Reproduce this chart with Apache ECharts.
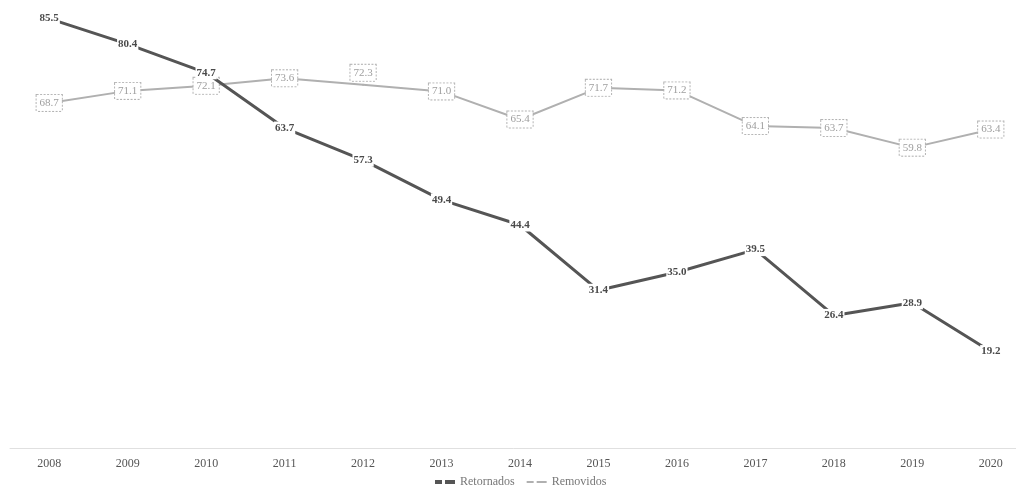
<!DOCTYPE html>
<html><head><meta charset="utf-8">
<script src="https://cdn.jsdelivr.net/npm/echarts@6/dist/echarts.min.js"></script>
<style>html,body{margin:0;padding:0;background:#fff}#c{width:1016px;height:490px}</style>
</head><body><div id="c"></div>
<script>
const years = ['2008','2009','2010','2011','2012','2013','2014','2015','2016','2017','2018','2019','2020'];
const retornados = [85.5,80.4,74.7,63.7,57.3,49.4,44.4,31.4,35.0,39.5,26.4,28.9,19.2];
const removidos = [68.7,71.1,72.1,73.6,72.3,71.0,65.4,71.7,71.2,64.1,63.7,59.8,63.4];
const serif = '"Liberation Serif","DejaVu Serif",serif';
const chart = echarts.init(document.getElementById('c'));
chart.setOption({
  animation:false,
  backgroundColor:'#fff',
  grid:{left:10,width:1020,top:6,bottom:42,outerBoundsMode:'none',containLabel:false},
  legend:{
    bottom:-3,left:430,itemWidth:20,itemHeight:4,itemGap:12,
    textStyle:{fontFamily:serif,fontSize:12,color:'#777'},
    data:[
      {name:'Retornados',icon:'path://M0,0h7v4h-7zM10,0h10v4h-10z',itemStyle:{color:'#555',opacity:1}},
      {name:'Removidos',icon:'path://M0,1h7v2h-7zM10,1h10v2h-10z',itemStyle:{color:'#b0b0b0',opacity:1}}
    ]
  },
  xAxis:{type:'category',data:years,boundaryGap:true,
    axisLine:{lineStyle:{color:'#e0e0e0',width:1}},axisTick:{show:false},
    axisLabel:{fontFamily:serif,fontSize:12,color:'#555',margin:10}},
  yAxis:{type:'value',min:0,max:88,show:false,splitLine:{show:false}},
  series:[
    {name:'Removidos',type:'line',data:removidos,symbol:'circle',symbolSize:2,z:2,
      lineStyle:{color:'#b0b0b0',width:2},itemStyle:{color:'#b0b0b0'},
      label:{show:true,position:'inside',formatter:p=>p.value.toFixed(1),
        fontFamily:serif,fontSize:11,color:'#9e9e9e',backgroundColor:'#fff',
        borderColor:'#b4b4b4',borderWidth:1,borderType:[2,1.5],padding:[3,3,2,3]},
      labelLayout:function(p){ if(p.dataIndex===4){return {dy:-12};} return {}; }
    },
    {name:'Retornados',type:'line',data:retornados,symbol:'circle',symbolSize:2,z:3,
      lineStyle:{color:'#555',width:3},itemStyle:{color:'#555'},
      label:{show:true,position:'inside',formatter:p=>p.value.toFixed(1),
        fontFamily:serif,fontSize:11,fontWeight:'bold',color:'#4a4a4a',backgroundColor:'#fff',padding:[1,1]}
    }
  ]
});
</script></body></html>
